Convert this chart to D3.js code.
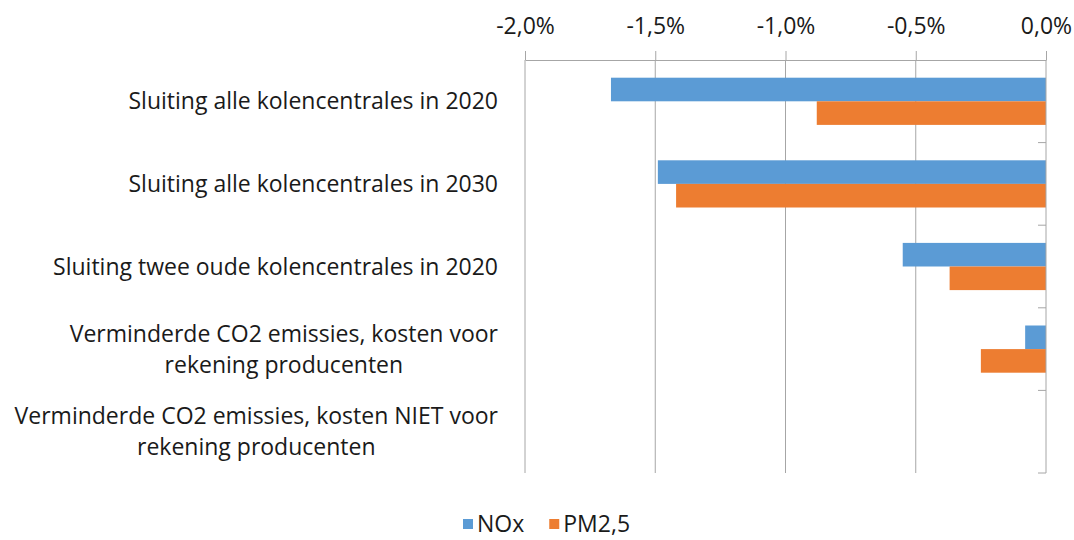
<!DOCTYPE html>
<html>
<head>
<meta charset="utf-8">
<script src="https://cdn.jsdelivr.net/npm/d3@7"></script>
<style>
  body { margin: 0; background: #fff; }
  text { font-family: "Open Sans", "Liberation Sans", sans-serif; fill: #1a1a1a; }
</style>
</head>
<body>
<script>
// data (percent change)
var categories = [
  ["Sluiting alle kolencentrales in 2020"],
  ["Sluiting alle kolencentrales in 2030"],
  ["Sluiting twee oude kolencentrales in 2020"],
  ["Verminderde CO2 emissies, kosten voor", "rekening producenten"],
  ["Verminderde CO2 emissies, kosten NIET voor", "rekening producenten"]
];
var noxValues = [-1.67, -1.49, -0.55, -0.08, null];
var pm25Values = [-0.88, -1.42, -0.37, -0.25, null];
var seriesNames = ["NOx", "PM2,5"];
var tickValues = [-2, -1.5, -1, -0.5, 0];

var colors = ["#5B9BD5", "#ED7D31"];
var axisColor = "#a6a6a6";
var fontSize = 23;

var svgWidth = 1074;
var svgHeight = 540;
var margin = { top: 60, right: 28, bottom: 67, left: 525 };
var width = svgWidth - margin.left - margin.right;
var height = svgHeight - margin.top - margin.bottom;

var locale = d3.formatLocale({ decimal: ",", thousands: ".", grouping: [3], currency: ["€", ""], minus: "-" });
var fmt = locale.format(".1f");

var svg = d3.select("body").append("svg")
  .attr("width", svgWidth)
  .attr("height", svgHeight);

var chartGroup = svg.append("g")
  .attr("transform", `translate(${margin.left}, ${margin.top})`);

var x = d3.scaleLinear().domain([-2, 0]).range([0, width]);
var y = d3.scaleBand().domain(d3.range(categories.length)).range([0, height]);
var y1 = d3.scaleBand().domain([0, 1]).range([0, y.bandwidth() / 1.75]);
var groupOffset = (y.bandwidth() - y1.range()[1]) / 2;

// gridlines
chartGroup.selectAll(".grid")
  .data(tickValues.slice(0, -1))
  .enter()
  .append("line")
  .attr("x1", d => x(d)).attr("x2", d => x(d))
  .attr("y1", 0).attr("y2", height)
  .attr("stroke", axisColor)
  .attr("stroke-width", 1);

// bars
var rows = categories.map((c, i) => [noxValues[i], pm25Values[i]]);
var groups = chartGroup.selectAll(".cat")
  .data(rows)
  .enter()
  .append("g")
  .attr("transform", (d, i) => `translate(0, ${y(i) + groupOffset})`);

groups.selectAll("rect")
  .data(d => d.map((v, j) => ({ v: v, j: j })).filter(e => e.v !== null))
  .enter()
  .append("rect")
  .attr("x", d => x(d.v))
  .attr("y", d => y1(d.j))
  .attr("width", d => x(0) - x(d.v))
  .attr("height", y1.bandwidth())
  .attr("fill", d => colors[d.j]);

// top axis
var xAxis = d3.axisTop(x)
  .tickValues(tickValues)
  .tickFormat(d => fmt(d) + "%")
  .tickSizeInner(9)
  .tickSizeOuter(0)
  .tickPadding(17);

var gx = chartGroup.append("g").call(xAxis);
gx.selectAll("path, line").attr("stroke", axisColor);
gx.selectAll("text")
  .style("font-family", "'Open Sans', 'Liberation Sans', sans-serif")
  .style("font-size", fontSize + "px")
  .attr("fill", "#1a1a1a");

// vertical axis at 0 with category ticks
chartGroup.append("line")
  .attr("x1", x(0)).attr("x2", x(0))
  .attr("y1", 0).attr("y2", height)
  .attr("stroke", axisColor);

chartGroup.selectAll(".ctick")
  .data(d3.range(1, categories.length + 1))
  .enter()
  .append("line")
  .attr("x1", x(0) - 8).attr("x2", x(0))
  .attr("y1", d => y.step() * d).attr("y2", d => y.step() * d)
  .attr("stroke", axisColor);

// category labels (lines centred, block right-aligned)
var labelRight = -27;
var lineH = 31;
categories.forEach(function(lines, i) {
  var t = chartGroup.append("text")
    .attr("font-size", fontSize)
    .attr("text-anchor", "middle");
  var cy = y(i) + y.bandwidth() / 2;
  var w = 0;
  lines.forEach(function(s, k) {
    var ts = t.append("tspan")
      .attr("x", 0)
      .attr("y", cy + (k - (lines.length - 1) / 2) * lineH)
      .attr("dy", "0.35em")
      .text(s);
    w = Math.max(w, ts.node().getComputedTextLength());
  });
  t.selectAll("tspan").attr("x", labelRight - w / 2);
});

// legend
var legend = svg.append("g").attr("transform", "translate(463, 524)");
var lx = 0;
seriesNames.forEach(function(name, i) {
  legend.append("rect")
    .attr("x", lx).attr("y", -5)
    .attr("width", 10).attr("height", 10)
    .attr("fill", colors[i]);
  var t = legend.append("text")
    .attr("x", lx + 14).attr("y", 0)
    .attr("dy", "0.35em")
    .attr("font-size", fontSize)
    .text(name);
  lx += 14 + t.node().getComputedTextLength() + 25;
});
</script>
</body>
</html>
